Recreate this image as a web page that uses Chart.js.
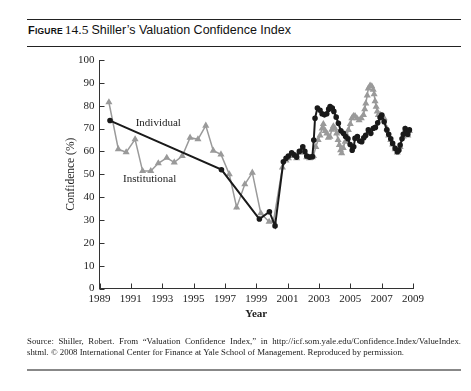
<!DOCTYPE html>
<html>
<head>
<meta charset="utf-8">
<script src="https://cdn.jsdelivr.net/npm/chart.js@4"></script>
<style>
  body { margin: 0; background: #fff; width: 471px; height: 391px; position: relative; overflow: hidden; }
  .rule { position: absolute; left: 27px; width: 434px; background: #222; height: 1px; }
  #title { position: absolute; left: 28px; top: 22px; font-family: "Liberation Sans", Arial, sans-serif; font-size: 12.5px; color: #111; white-space: nowrap; }
  #title .fig { font-weight: bold; font-size: 11px; letter-spacing: 0.2px; }
  #title .fig small { font-size: 8.5px; }
  #title .num { font-family: "Liberation Serif", serif; font-size: 13.5px; margin: 0 3px 0 2px; }
  #source { position: absolute; left: 27px; top: 336px; width: 434px; font-family: "Liberation Serif", serif; font-size: 8.8px; line-height: 10.7px; color: #222; }
  #source .l1 { text-align: justify; text-align-last: justify; white-space: nowrap; }
  #chart-wrap { position: absolute; left: 0; top: 0; width: 471px; height: 391px; }
</style>
</head>
<body>
<div class="rule" style="top:19px"></div>
<div id="title"><span class="fig">F<small>IGURE</small></span><span class="num">14.5</span>Shiller’s Valuation Confidence Index</div>
<div class="rule" style="top:46px"></div>
<div id="chart-wrap"><canvas id="vci"></canvas></div>
<div id="source">
  <div class="l1">Source: Shiller, Robert. From “Valuation Confidence Index,” in http://icf.som.yale.edu/Confidence.Index/ValueIndex.</div>
  <div>shtml. © 2008 International Center for Finance at Yale School of Management. Reproduced by permission.</div>
</div>
<div class="rule" style="top:369px;height:2px;background:#888"></div>
<script>
// Axis ticks
const xTicks = [1989, 1991, 1993, 1995, 1997, 1999, 2001, 2003, 2005, 2007, 2009];
const yTicks = [0, 10, 20, 30, 40, 50, 60, 70, 80, 90, 100];

// Individual investors (black, circles)
const indivYears = [1989.67, 1996.78, 1999.2, 1999.84, 2000.2, 2000.73,
  2000.9, 2001.05, 2001.26, 2001.42, 2001.58, 2001.75, 2001.97, 2002.1, 2002.22, 2002.4,
  2002.58, 2002.67, 2002.75, 2002.9, 2003.07, 2003.2, 2003.35, 2003.5, 2003.62, 2003.71,
  2003.85, 2003.95, 2004.1, 2004.24, 2004.4, 2004.56, 2004.7, 2004.85, 2004.99, 2005.12,
  2005.22, 2005.3, 2005.45, 2005.6, 2005.73, 2005.86, 2005.98, 2006.15, 2006.31, 2006.47,
  2006.6, 2006.75, 2006.9, 2007.01, 2007.16, 2007.33, 2007.45, 2007.58, 2007.7, 2007.86,
  2008.0, 2008.1, 2008.18, 2008.3, 2008.38, 2008.5, 2008.6, 2008.67, 2008.77];
const indivValues = [73.5, 52, 30.4, 33.6, 27.4, 55.5,
  57, 58, 59.4, 58.5, 57.5, 60, 62, 60, 58, 57.5,
  57.7, 65, 74.5, 79, 78, 76.5, 76, 76.5, 78.5, 79.6,
  79, 77.5, 75, 72.3, 69, 67.9, 66.5, 65.5, 63, 60.5,
  62, 65.7, 66.5, 64.5, 64.2, 66, 67, 69.4, 67.9, 70.1,
  70.5, 72.5, 74.8, 75.9, 73, 69.4, 67.5, 65.5, 63.5, 61.4,
  59.9, 60.5, 62.8, 65.5, 67.5, 70, 68, 67.5, 69.4];

// Institutional investors (gray, triangles)
const instYears = [1989.6, 1990.2, 1990.7, 1991.27, 1991.75, 1992.27, 1992.75, 1993.29, 1993.77,
  1994.28, 1994.78, 1995.28, 1995.78, 1996.26, 1996.75, 1997.28, 1997.75, 1998.27, 1998.75,
  1999.29, 1999.82, 2000.1, 2000.67,
  2000.9, 2001.05, 2001.26, 2001.42, 2001.58, 2001.75, 2001.97, 2002.1, 2002.22, 2002.4,
  2002.58, 2002.65, 2002.8, 2002.95, 2003.07, 2003.2, 2003.28, 2003.4, 2003.5, 2003.6,
  2003.7, 2003.82, 2003.92, 2004.02, 2004.13, 2004.22, 2004.3, 2004.38, 2004.45, 2004.55,
  2004.67, 2004.78, 2004.88, 2005.0, 2005.1, 2005.2, 2005.3, 2005.42, 2005.56, 2005.7,
  2005.84, 2005.92, 2005.99, 2006.08, 2006.15, 2006.26, 2006.37, 2006.46, 2006.52, 2006.58,
  2006.65, 2006.72, 2006.79, 2006.9, 2007.01, 2007.16, 2007.33, 2007.45, 2007.58, 2007.7,
  2007.86, 2008.0, 2008.18, 2008.38, 2008.5, 2008.67, 2008.77];
const instValues = [81.5, 61, 59.6, 65.3, 51.4, 51.4, 54.8, 57.2, 55.2,
  58, 66, 65.3, 71.3, 60.3, 58.7, 50, 35.5, 45.6, 50.7,
  32.9, 29.2, 29.5, 53,
  56, 57, 58.5, 58, 57, 59.5, 61.5, 59.5, 57.5, 57,
  57.5, 58, 62, 65, 67, 70, 72, 69, 67.9, 66,
  66.4, 69.5, 71, 70, 67.9, 65, 62.8, 60.5, 59.2, 61.5,
  64.2, 67, 69.4, 72, 74.5, 75.5, 75.5, 74.5, 73.7, 74.5,
  76, 78.5, 81, 84.5, 87.6, 88.8, 88.5, 87, 85, 82,
  79.6, 77.5, 76, 76, 75.5, 74.5, 70, 67, 65, 63,
  61, 59.5, 62, 66.5, 69.5, 67, 69];

const serif = '"Liberation Serif", "Times New Roman", serif';

// Inward tick marks + series labels
const extras = {
  id: 'extras',
  afterDraw(chart) {
    const ctx = chart.ctx;
    const x = chart.scales.x, y = chart.scales.y;
    const a = chart.chartArea;
    ctx.save();
    ctx.strokeStyle = '#333';
    ctx.lineWidth = 1;
    ctx.beginPath();
    xTicks.forEach(t => {
      const px = Math.round(x.getPixelForValue(t)) + 0.5;
      ctx.moveTo(px, a.bottom);
      ctx.lineTo(px, a.bottom - 5);
    });
    yTicks.forEach(t => {
      const py = Math.round(y.getPixelForValue(t)) + 0.5;
      ctx.moveTo(a.left, py);
      ctx.lineTo(a.left + 5, py);
    });
    ctx.stroke();
    ctx.fillStyle = '#222';
    ctx.font = '11px ' + serif;
    ctx.textAlign = 'center';
    ctx.textBaseline = 'middle';
    ctx.fillText('Individual', x.getPixelForValue(1992.75), y.getPixelForValue(72.4));
    ctx.fillText('Institutional', x.getPixelForValue(1992.2), y.getPixelForValue(47.9));
    ctx.restore();
  }
};

new Chart(document.getElementById('vci'), {
  type: 'line',
  data: {
    datasets: [
      {
        label: 'Individual',
        data: indivYears.map((yr, i) => ({ x: yr, y: indivValues[i] })),
        borderColor: '#1a1a1a',
        backgroundColor: '#1a1a1a',
        borderWidth: 2,
        pointStyle: 'circle',
        pointRadius: 1.8,
        tension: 0
      },
      {
        label: 'Institutional',
        data: instYears.map((yr, i) => ({ x: yr, y: instValues[i] })),
        borderColor: '#9a9a9a',
        backgroundColor: '#9a9a9a',
        borderWidth: 1.5,
        pointStyle: 'triangle',
        pointRadius: 2.6,
        tension: 0
      }
    ]
  },
  options: {
    responsive: true,
    maintainAspectRatio: false,
    animation: false,
    layout: { padding: { left: 60, top: 60, right: 58, bottom: 66.5 } },
    plugins: { legend: { display: false }, tooltip: { enabled: false } },
    scales: {
      x: {
        type: 'linear',
        min: 1989, max: 2009,
        afterBuildTicks: s => { s.ticks = xTicks.map(v => ({ value: v })); },
        afterFit: s => { s.height = 36; },
        grid: { display: false, drawTicks: false },
        border: { display: true, color: '#333', width: 1 },
        ticks: { color: '#222', padding: 4, maxRotation: 0, autoSkip: false,
          font: { family: serif, size: 11 }, callback: v => String(v) },
        title: { display: true, text: 'Year', color: '#222', font: { family: serif, size: 11, weight: 'bold' } }
      },
      y: {
        min: 0, max: 100,
        afterBuildTicks: s => { s.ticks = yTicks.map(v => ({ value: v })); },
        afterFit: s => { s.width = 39.5; },
        grid: { display: false, drawTicks: false },
        border: { display: true, color: '#333', width: 1 },
        ticks: { color: '#222', padding: 5, font: { family: serif, size: 11 } },
        title: { display: true, text: 'Confidence (%)', color: '#222', font: { family: serif, size: 11.5 } }
      }
    }
  },
  plugins: [extras]
});
</script>
</body>
</html>
